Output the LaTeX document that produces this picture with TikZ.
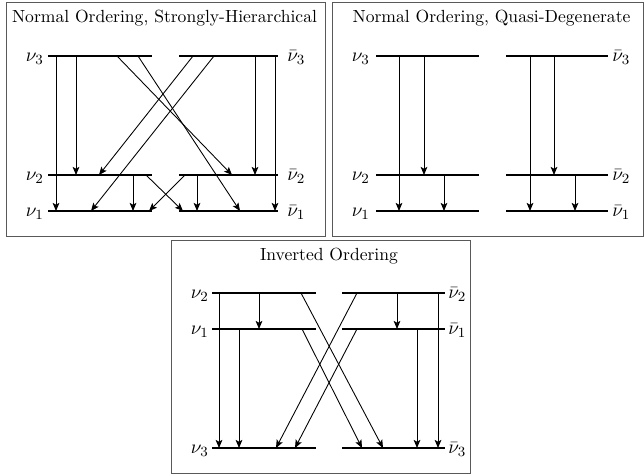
\documentclass[tikz,border=0pt]{standalone}
\usetikzlibrary{arrows.meta}
\begin{document}
\begin{tikzpicture}[x=0.02cm,y=-0.02cm,every node/.style={inner sep=0pt},panel/.style={draw=black!65,line width=0.5pt},level/.style={line width=1.1pt},decay/.style={-{Stealth[length=4.6pt,width=3.8pt,inset=1pt]},line width=0.5pt},title/.style={anchor=base,font=\normalsize},lab/.style={font=\fontsize{11}{13}\selectfont}]
\useasboundingbox (0,0) rectangle (644,474);
% boxes
\draw[panel] (6,2) rectangle (325,236);
\draw[panel] (332,2) rectangle (643,236);
\draw[panel] (171,240) rectangle (470,473);
% normal ordering, strongly hierarchical
\node[title] (t1) at (164.5,22) {Normal Ordering, Strongly-Hierarchical};
\node[lab,anchor=base east] (a3) at (44,61.5) {$\nu_3$};
\node[lab,anchor=base east] (a2) at (44,180.5) {$\nu_2$};
\node[lab,anchor=base east] (a1) at (44,216.5) {$\nu_1$};
\node[lab,anchor=base west] (ab3) at (287,61.5) {$\bar\nu_3$};
\node[lab,anchor=base west] (ab2) at (287,180.5) {$\bar\nu_2$};
\node[lab,anchor=base west] (ab1) at (287,216.5) {$\bar\nu_1$};
\draw[level] (48,56) -- (152,56);
\draw[level] (48,175) -- (152,175);
\draw[level] (48,211) -- (152,211);
\draw[level] (179,56) -- (278,56);
\draw[level] (179,175) -- (278,175);
\draw[level] (179,211) -- (278,211);
\draw[decay] (56,56) -- (56,211);
\draw[decay] (76,56) -- (76,175);
\draw[decay] (117,56) -- (232,175);
\draw[decay] (138,56) -- (240,211);
\draw[decay] (133,175) -- (133,211);
\draw[decay] (146,175) -- (183,211);
\draw[decay] (275,56) -- (275,211);
\draw[decay] (255,56) -- (255,175);
\draw[decay] (193,56) -- (99,175);
\draw[decay] (214,56) -- (91,211);
\draw[decay] (197,175) -- (197,211);
\draw[decay] (185,175) -- (149,211);
% normal ordering, quasi-degenerate
\node[title] (t2) at (491.5,22) {Normal Ordering, Quasi-Degenerate};
\node[lab,anchor=base east] (b3) at (370,61.5) {$\nu_3$};
\node[lab,anchor=base east] (b2) at (370,180.5) {$\nu_2$};
\node[lab,anchor=base east] (b1) at (370,216.5) {$\nu_1$};
\node[lab,anchor=base west] (bb3) at (612,61.5) {$\bar\nu_3$};
\node[lab,anchor=base west] (bb2) at (612,180.5) {$\bar\nu_2$};
\node[lab,anchor=base west] (bb1) at (612,216.5) {$\bar\nu_1$};
\draw[level] (376,56) -- (479,56);
\draw[level] (376,175) -- (479,175);
\draw[level] (376,211) -- (479,211);
\draw[level] (506,56) -- (608,56);
\draw[level] (506,175) -- (608,175);
\draw[level] (506,211) -- (608,211);
\draw[decay] (399,56) -- (399,211);
\draw[decay] (424,56) -- (424,175);
\draw[decay] (444,175) -- (444,211);
\draw[decay] (530,56) -- (530,211);
\draw[decay] (554,56) -- (554,175);
\draw[decay] (575,175) -- (575,211);
% inverted ordering
\node[title] (t3) at (329,260) {Inverted Ordering};
\node[lab,anchor=base east] (c2) at (209,298.5) {$\nu_2$};
\node[lab,anchor=base east] (c1) at (209,334.5) {$\nu_1$};
\node[lab,anchor=base east] (c3) at (209,453.5) {$\nu_3$};
\node[lab,anchor=base west] (cb2) at (448,298.5) {$\bar\nu_2$};
\node[lab,anchor=base west] (cb1) at (448,334.5) {$\bar\nu_1$};
\node[lab,anchor=base west] (cb3) at (448,453.5) {$\bar\nu_3$};
\draw[level] (212,293) -- (316,293);
\draw[level] (212,329) -- (316,329);
\draw[level] (212,448) -- (316,448);
\draw[level] (342,293) -- (445,293);
\draw[level] (342,329) -- (445,329);
\draw[level] (342,448) -- (445,448);
\draw[decay] (219,293) -- (219,448);
\draw[decay] (259,293) -- (259,329);
\draw[decay] (239,329) -- (239,448);
\draw[decay] (301,293) -- (383,448);
\draw[decay] (302,329) -- (362,448);
\draw[decay] (438,293) -- (438,448);
\draw[decay] (397,293) -- (397,329);
\draw[decay] (417,329) -- (417,448);
\draw[decay] (357,293) -- (276,448);
\draw[decay] (357,329) -- (295,448);
\end{tikzpicture}
\end{document}
